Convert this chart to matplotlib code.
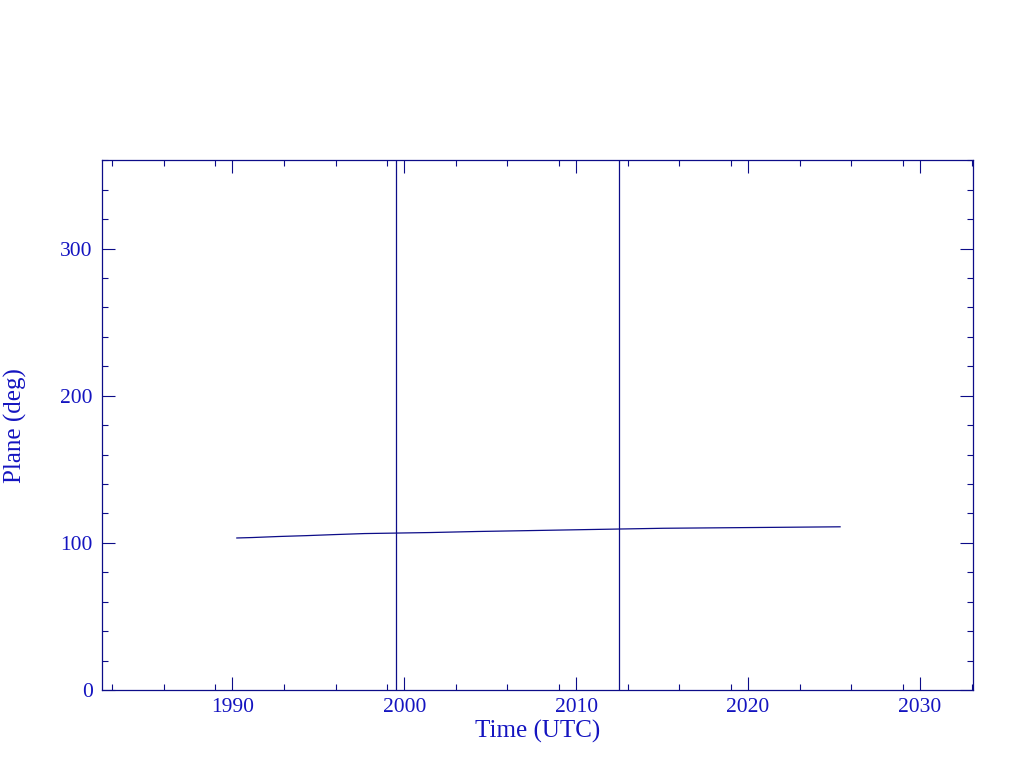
import numpy as np
import matplotlib
matplotlib.use('Agg')
import matplotlib.pyplot as plt
from matplotlib.ticker import FixedLocator, MultipleLocator

# values
years = [1990.26, 1991.16, 1992.68, 1994.33, 1995.93, 1997.68, 2001.54,
         2004.22, 2007.22, 2010.58, 2015.07, 2022.34, 2025.35]
plane = [103.3, 103.6, 104.3, 104.9, 105.6, 106.3, 107.0,
         107.7, 108.3, 109.0, 109.9, 110.6, 110.9]
events = [1999.5, 2012.5]

x_major = [1990, 2000, 2010, 2020, 2030]
x_minor = [d + k for d in range(1980, 2040, 10) for k in (3, 6, 9)]

line_col = '#0c0c88'
text_col = '#1414c0'

plt.rcParams['font.family'] = ['Liberation Serif', 'DejaVu Serif']

fig = plt.figure(figsize=(10.24, 7.68), dpi=100)
ax = fig.add_axes([0.1, 0.1016, 0.85, 0.6897])

ax.plot(years, plane, color=line_col, lw=0.9)
for e in events:
    ax.axvline(e, color=line_col, lw=0.9)

ax.set_xlim(1982.44, 2033.07)
ax.set_ylim(0, 360)

ax.xaxis.set_major_locator(FixedLocator(x_major))
ax.xaxis.set_minor_locator(FixedLocator(x_minor))
ax.yaxis.set_major_locator(FixedLocator([0, 100, 200, 300]))
ax.yaxis.set_minor_locator(MultipleLocator(20))

ax.tick_params(which='both', direction='in', top=True, right=True,
               color=line_col, width=0.8, labelcolor=text_col, labelsize=15.5)
ax.tick_params(which='major', length=9.1)
ax.tick_params(which='minor', length=4.6)
ax.tick_params(axis='x', pad=5.5)
ax.tick_params(axis='y', pad=7)

for s in ax.spines.values():
    s.set_color(line_col)
    s.set_linewidth(0.9)

ax.set_xlabel('Time (UTC)', color=text_col, fontsize=18)
ax.set_ylabel('Plane (deg)', color=text_col, fontsize=18)
ax.xaxis.set_label_coords(0.5, -0.079)
ax.xaxis.label.set_va('center')
ax.yaxis.set_label_coords(-0.1003, 0.5)
ax.yaxis.label.set_va('center')

fig.savefig('out.png', dpi=100)
